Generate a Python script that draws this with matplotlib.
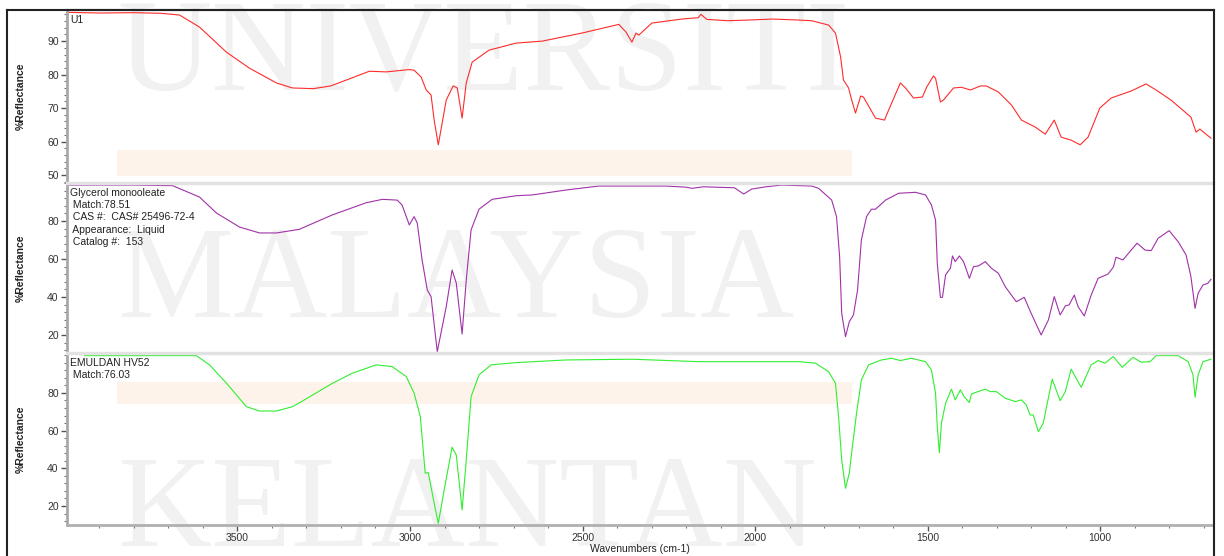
import numpy as np
import matplotlib
matplotlib.use('Agg')
import matplotlib.pyplot as plt
from matplotlib.lines import Line2D
from matplotlib.patches import Rectangle
from matplotlib.ticker import MultipleLocator

plt.rcParams['font.family'] = 'Liberation Sans'

#-----------------
#data (wavenumber, %reflectance)
#-----------------
u1_wn = [3992, 3900, 3800, 3720, 3668, 3610, 3532, 3465, 3387, 3341, 3280, 3230, 3176, 3118,
         3069, 3002, 2988, 2968, 2953, 2939, 2930, 2918, 2895, 2875, 2863, 2849, 2837, 2820,
         2771, 2693, 2617, 2502, 2395, 2374, 2357, 2345, 2337, 2299, 2212, 2165, 2157, 2140,
         2080, 2019, 1950, 1874, 1836, 1787, 1767, 1752, 1744, 1729, 1720, 1709, 1694, 1686,
         1651, 1625, 1613, 1579, 1564, 1541, 1515, 1503, 1483, 1477, 1463, 1454, 1425, 1402,
         1376, 1347, 1330, 1295, 1257, 1228, 1188, 1159, 1133, 1113, 1084, 1058, 1035, 1001,
         968, 910, 867, 838, 795, 737, 722, 711, 679]
u1_val = [98.6, 98.4, 98.5, 98.3, 97.8, 94.2, 86.7, 81.9, 77.5, 76.0, 75.8, 76.6, 78.7, 81.0,
          80.8, 81.5, 81.3, 79.3, 75.4, 73.9, 66.4, 59.0, 72.4, 76.6, 76.0, 67.0, 77.5, 83.7,
          87.3, 89.4, 90.0, 92.4, 95.0, 92.7, 89.7, 92.4, 91.8, 95.4, 96.6, 97.0, 98.0, 96.5,
          96.1, 96.3, 96.6, 96.3, 96.1, 94.8, 92.4, 85.2, 78.4, 76.0, 72.4, 68.5, 73.6, 73.3,
          67.0, 66.4, 69.4, 77.5, 76.0, 73.0, 73.3, 76.2, 79.6, 78.9, 71.8, 72.4, 76.0, 76.2,
          75.4, 76.6, 76.6, 74.8, 70.9, 66.4, 64.3, 62.2, 66.4, 61.3, 60.4, 59.0, 61.3, 70.0,
          73.0, 75.1, 77.2, 75.4, 72.4, 67.3, 62.8, 63.7, 61.0]

gmo_wn = [3992, 3800, 3688, 3610, 3561, 3494, 3436, 3387, 3321, 3225, 3127, 3080, 3037, 3023,
          3002, 2988, 2979, 2965, 2950, 2939, 2921, 2895, 2878, 2866, 2849, 2837, 2823, 2800,
          2762, 2693, 2646, 2548, 2453, 2259, 2200, 2183, 2150, 2060, 2033, 2010, 1969, 1923,
          1836, 1816, 1778, 1764, 1755, 1749, 1738, 1727, 1715, 1703, 1692, 1677, 1663, 1651,
          1622, 1584, 1535, 1506, 1489, 1477, 1472, 1463, 1457, 1448, 1434, 1428, 1420, 1408,
          1396, 1379, 1367, 1353, 1333, 1315, 1295, 1275, 1243, 1220, 1200, 1171, 1150, 1133,
          1116, 1101, 1090, 1075, 1064, 1046, 1026, 1006, 977, 962, 954, 934, 910, 893, 870,
          852, 832, 800, 774, 751, 737, 725, 716, 702, 688, 679]
gmo_val = [98.9, 98.9, 98.6, 92.6, 84.2, 76.8, 73.7, 73.7, 75.6, 83.2, 89.6, 91.4, 91.0, 88.4,
           77.9, 82.3, 78.9, 59.5, 43.7, 40.2, 11.2, 34.9, 54.2, 47.4, 20.5, 48.9, 75.3, 86.2,
           91.4, 93.3, 93.7, 96.3, 98.4, 98.4, 97.8, 97.2, 98.0, 97.5, 94.2, 96.8, 98.0, 98.9,
           98.4, 97.2, 91.0, 82.3, 61.2, 31.4, 19.1, 27.0, 30.5, 43.7, 70.0, 82.3, 86.2, 86.2,
           91.0, 94.6, 95.1, 93.7, 88.4, 80.5, 57.7, 39.8, 39.8, 51.6, 55.1, 61.6, 58.6, 61.6,
           58.6, 49.8, 56.0, 56.3, 58.6, 55.1, 52.5, 45.4, 37.5, 39.8, 31.4, 20.0, 27.9, 40.2,
           30.5, 35.3, 35.8, 41.0, 34.9, 30.0, 41.0, 49.8, 52.1, 55.6, 60.9, 59.5, 64.7, 68.3, 64.7,
           64.4, 70.9, 74.9, 69.1, 62.1, 50.7, 34.0, 42.0, 46.3, 47.2, 49.3]

emu_wn = [3943, 3800, 3619, 3581, 3532, 3474, 3436, 3387, 3341, 3321, 3225, 3167, 3098, 3052,
          3011, 2988, 2970, 2956, 2947, 2930, 2918, 2901, 2878, 2866, 2849, 2837, 2823, 2800,
          2765, 2693, 2548, 2357, 2163, 1969, 1874, 1825, 1787, 1767, 1758, 1749, 1738, 1727,
          1718, 1706, 1692, 1671, 1634, 1605, 1579, 1547, 1506, 1489, 1477, 1472, 1466, 1460,
          1448, 1431, 1420, 1405, 1394, 1379, 1373, 1333, 1318, 1301, 1275, 1246, 1228, 1214,
          1203, 1194, 1179, 1165, 1139, 1116, 1101, 1084, 1055, 1026, 1006, 986, 962, 936, 905,
          881, 855, 838, 774, 745, 731, 725, 716, 702, 679]
emu_val = [99.8, 99.8, 99.8, 94.9, 85.2, 72.7, 70.4, 70.4, 72.7, 74.7, 85.1, 90.5, 94.9, 94.0,
           88.7, 79.8, 67.4, 37.4, 37.7, 21.4, 10.8, 28.5, 51.2, 47.1, 17.9, 44.4, 78.0, 89.6,
           94.9, 96.1, 97.5, 97.9, 96.6, 96.6, 96.6, 95.8, 91.3, 85.1, 67.4, 44.4, 29.4, 37.4,
           51.5, 69.2, 86.9, 94.9, 97.5, 98.4, 97.2, 98.4, 96.6, 92.2, 79.8, 62.1, 48.3, 63.9,
           74.5, 82.0, 76.3, 81.6, 78.0, 74.9, 79.5, 82.0, 80.7, 80.7, 77.2, 75.4, 76.3, 73.6,
           68.3, 68.3, 59.4, 63.9, 87.3, 75.9, 80.7, 92.6, 83.0, 94.9, 97.2, 95.8, 99.3, 93.6, 98.9,
           96.3, 96.6, 99.8, 99.8, 96.6, 89.6, 77.7, 89.6, 96.6, 97.9]

panel_notes = [['U1'],
               ['Glycerol monooleate', ' Match:78.51', ' CAS #:  CAS# 25496-72-4',
                ' Appearance:  Liquid', ' Catalog #:  153'],
               ['EMULDAN HV52', ' Match:76.03']]
y_limits = [(47.6, 99.3), (10.5, 100), (9.9, 101.2)]
y_ticks = [[50, 60, 70, 80, 90], [20, 40, 60, 80], [20, 40, 60, 80]]
y_minor = [2, 4, 4]
colors = ['#ff2b2b', '#a032a8', '#30ee30']
spectra = [(u1_wn, u1_val), (gmo_wn, gmo_val), (emu_wn, emu_val)]

#-----------------
#figure layout (pixel based, 1224x556)
#-----------------
W, H = 1224, 556
fig = plt.figure(figsize=(W / 100, H / 100), dpi=100)

def fx(px):
    return px / W

def fy(py):
    return 1 - py / H

# watermark behind everything
for word, base in zip(['UNIVERSITI', 'MALAYSIA', 'KELANTAN'], [90, 317, 546]):
    fig.text(fx(117), fy(base), word, family='Liberation Serif', fontsize=94,
             color='#f1f1f1', ha='left', va='baseline', zorder=-2)
for top, bot in [(150, 176), (382, 404)]:
    fig.add_artist(Rectangle((fx(117), fy(bot)), fx(852) - fx(117), fy(top) - fy(bot),
                             transform=fig.transFigure, facecolor='#fdf3ea',
                             edgecolor='none', zorder=-2))

panel_px = [(10, 183), (183, 353), (353, 525)]
left, right = 67, 1213
axes = []
for i, (top, bot) in enumerate(panel_px):
    ax = fig.add_axes([fx(left), fy(bot), fx(right) - fx(left), fy(top) - fy(bot)])
    ax.patch.set_alpha(0)
    axes.append(ax)

for i, ax in enumerate(axes):
    wn, val = spectra[i]
    ax.plot(wn, val, color=colors[i], lw=0.8)
    ax.set_xlim(3994, 673)
    ax.set_ylim(*y_limits[i])
    ax.set_yticks(y_ticks[i])
    ax.yaxis.set_minor_locator(MultipleLocator(y_minor[i]))
    ax.xaxis.set_major_locator(MultipleLocator(500))
    ax.xaxis.set_minor_locator(MultipleLocator(100))
    ax.tick_params(axis='y', which='major', length=4, width=1, color='#555555',
                   labelsize=7.5, labelcolor='#333333', pad=2)
    ax.tick_params(axis='y', which='minor', length=2.5, width=0.8, color='#777777')
    ax.spines['left'].set_color('#a8a8a8')
    ax.spines['left'].set_linewidth(2)
    ax.spines['right'].set_visible(False)
    if i == 0:
        ax.spines['top'].set_color('#222222')
        ax.spines['top'].set_linewidth(1.5)
    else:
        ax.spines['top'].set_color('#e2e2e2')
        ax.spines['top'].set_linewidth(2.5)
    if i < 2:
        ax.spines['bottom'].set_visible(False)
        ax.tick_params(axis='x', which='both', bottom=False, labelbottom=False)
    else:
        ax.spines['bottom'].set_color('#b0b0b0')
        ax.spines['bottom'].set_linewidth(2)
        ax.tick_params(axis='x', which='major', length=4, width=1, color='#555555',
                       labelsize=7.5, labelcolor='#333333', pad=1.5)
        ax.tick_params(axis='x', which='minor', length=2.5, width=0.8, color='#777777')
        ax.set_xlabel('Wavenumbers (cm-1)', fontsize=7.5, color='#222222')
        ax.xaxis.set_label_coords(0.5, -(544 - 525) / (525 - 353))
    ax.set_ylabel('%Reflectance', fontsize=7.5, fontweight='bold', color='#222222')
    ax.yaxis.set_label_coords(-(67 - 26) / (right - left), 0.5)
    ph = panel_px[i][1] - panel_px[i][0]
    for k, line in enumerate(panel_notes[i]):
        ax.text(3 / (right - left), 1 - (5 + 12.2 * k) / ph, line, transform=ax.transAxes,
                fontsize=7.5, color='#222222', ha='left', va='top')

# outer black frame
fig.add_artist(Line2D([fx(7), fx(7)], [fy(10), 0], transform=fig.transFigure,
                      color='#222222', lw=1.5))
fig.add_artist(Line2D([fx(7), fx(1214)], [fy(10), fy(10)], transform=fig.transFigure,
                      color='#222222', lw=1.5))
fig.add_artist(Line2D([fx(1214), fx(1214)], [fy(10), 0], transform=fig.transFigure,
                      color='#222222', lw=1.5))

plt.savefig('out.png', dpi=100)
